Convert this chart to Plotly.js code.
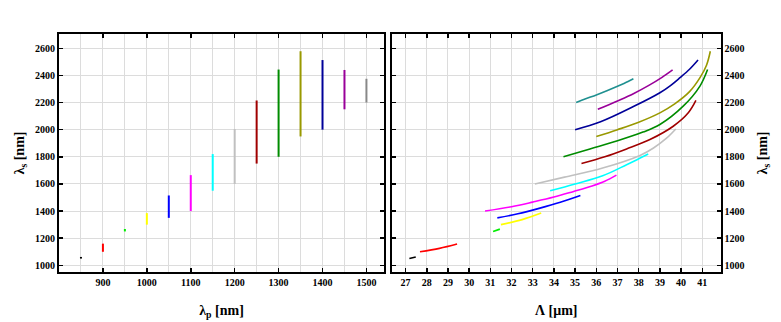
<!DOCTYPE html>
<html>
<head>
<meta charset="utf-8">
<script src="https://cdn.plot.ly/plotly-3.0.1.min.js"></script>
<style>html,body{margin:0;padding:0;background:#fff;}#chart{width:781px;height:322px;}</style>
</head>
<body>
<div id="chart"></div>
<script>
// Pump wavelengths (nm) and signal tuning range (nm)
const pumpWl    = [850, 900, 950, 1000, 1050, 1100, 1150, 1200, 1250, 1300, 1350, 1400, 1450, 1500];
const signalMin = [1050, 1100, 1250, 1300, 1350, 1400, 1550, 1600, 1750, 1800, 1950, 2000, 2150, 2200];
const signalMax = [1062, 1160, 1268, 1385, 1515, 1665, 1820, 2005, 2215, 2443, 2578, 2513, 2440, 2375];
const leftColors  = ['#000000','#ff0000','#00ee00','#ffff00','#0000ff','#ff00ff','#00ffff','#c0c0c0','#a00000','#008c00','#999900','#000099','#990099','#888888'];
const rightColors = ['#000000','#ff0000','#00ee00','#ffff00','#0000ff','#ff00ff','#00ffff','#c0c0c0','#a00000','#008c00','#999900','#000099','#990099','#1f9090'];

// Poling period (um) vs signal wavelength (nm), one curve per pump
const period850  = [27.18, 27.48];
const signal850  = [1050, 1062];
const period900  = [27.68, 28.6, 29.43];
const signal900  = [1100, 1125, 1157];
const period950  = [31.13, 31.45];
const signal950  = [1250, 1267];
const period1000 = [31.5, 32.5, 33.4];
const signal1000 = [1300, 1337, 1385];
const period1050 = [31.33, 32.3, 33.3, 34.3, 35.25];
const signal1050 = [1350, 1380, 1420, 1465, 1515];
const period1100 = [30.75, 32.0, 33.0, 34.0, 34.9, 35.8, 36.4, 36.95];
const signal1100 = [1400, 1432, 1466, 1503, 1543, 1585, 1620, 1665];
const period1150 = [33.82, 35.0, 36.3, 37.43, 38.0, 38.45];
const signal1150 = [1550, 1600, 1660, 1742, 1785, 1820];
const period1200 = [33.1, 34.5, 36.3, 38.06, 38.7, 39.3, 39.75];
const signal1200 = [1600, 1650, 1717, 1810, 1865, 1935, 2005];
const period1250 = [35.3, 36.4, 37.43, 38.53, 39.63, 40.34, 40.7];
const signal1250 = [1750, 1800, 1858, 1927, 2025, 2124, 2215];
const period1300 = [34.45, 35.7, 37.0, 38.2, 39.0, 40.1, 40.89, 41.25];
const signal1300 = [1800, 1858, 1918, 1982, 2038, 2173, 2321, 2443];
const period1350 = [36.0, 37.0, 38.0, 39.0, 39.7, 40.4, 40.9, 41.2, 41.38];
const signal1350 = [1950, 2000, 2055, 2124, 2190, 2280, 2385, 2475, 2578];
const period1400 = [35.0, 36.2, 37.75, 39.0, 39.5, 39.95, 40.4, 40.8];
const signal1400 = [2000, 2058, 2170, 2272, 2325, 2383, 2445, 2513];
const period1450 = [36.07, 37.0, 37.75, 38.5, 39.1, 39.6];
const signal1450 = [2150, 2212, 2265, 2328, 2385, 2440];
const period1500 = [35.05, 35.5, 36.0, 36.5, 37.0, 37.5, 37.75];
const signal1500 = [2200, 2227, 2256, 2287, 2320, 2355, 2375];

const periods = [period850, period900, period950, period1000, period1050, period1100, period1150, period1200, period1250, period1300, period1350, period1400, period1450, period1500];
const signals = [signal850, signal900, signal950, signal1000, signal1050, signal1100, signal1150, signal1200, signal1250, signal1300, signal1350, signal1400, signal1450, signal1500];

const traces = [];
pumpWl.forEach((p, i) => {
  traces.push({
    x: [p, p], y: [signalMin[i], signalMax[i]],
    mode: 'lines', line: {color: leftColors[i], width: 2},
    xaxis: 'x', yaxis: 'y', showlegend: false, hoverinfo: 'skip'
  });
});
periods.forEach((per, i) => {
  traces.push({
    x: per, y: signals[i],
    mode: 'lines', line: {color: rightColors[i], width: 1.6, shape: 'spline', smoothing: 1},
    xaxis: 'x2', yaxis: 'y2', showlegend: false, hoverinfo: 'skip'
  });
});

const tickFont = {family: 'Liberation Serif, Times New Roman, serif', size: 10, color: '#000', weight: 'bold'};
const titleFont = {family: 'Liberation Serif, Times New Roman, serif', size: 14, color: '#000', weight: 'bold'};
const H = 322, W = 781;
const yDom = [(H - 272) / H, (H - 34) / H];

const common = {
  showline: true, linecolor: '#000', linewidth: 2, mirror: 'allticks',
  ticks: 'inside', ticklen: 4, tickwidth: 1.5, tickcolor: '#000',
  showgrid: true, gridcolor: '#dcdcdc', gridwidth: 1, zeroline: false,
  tickfont: tickFont
};

const layout = {
  width: W, height: H,
  margin: {l: 0, r: 0, t: 0, b: 0},
  paper_bgcolor: '#fff', plot_bgcolor: '#fff',
  showlegend: false,
  xaxis: Object.assign({}, common, {
    domain: [59 / W, 384 / W], range: [800, 1540], anchor: 'y',
    tickvals: [900, 1000, 1100, 1200, 1300, 1400, 1500],
    minor: {tickvals: [850, 950, 1050, 1150, 1250, 1350, 1450], showgrid: true, gridcolor: '#dcdcdc', ticks: ''},
    title: {text: 'λ<sub>p</sub> [nm]', font: titleFont, standoff: 18}
  }),
  yaxis: Object.assign({}, common, {
    domain: yDom, range: [951, 2705], anchor: 'x',
    tickvals: [1000, 1200, 1400, 1600, 1800, 2000, 2200, 2400, 2600],
    title: {text: 'λ<sub>s</sub> [nm]', font: titleFont, standoff: 7}
  }),
  xaxis2: Object.assign({}, common, {
    domain: [392 / W, 720.5 / W], range: [26.36, 41.86], anchor: 'y2',
    tickvals: [27, 28, 29, 30, 31, 32, 33, 34, 35, 36, 37, 38, 39, 40, 41],
    title: {text: 'Λ [μm]', font: titleFont, standoff: 18}
  }),
  yaxis2: Object.assign({}, common, {
    domain: yDom, range: [951, 2705], anchor: 'x2', side: 'right',
    tickvals: [1000, 1200, 1400, 1600, 1800, 2000, 2200, 2400, 2600],
    title: {text: 'λ<sub>s</sub> [nm]', font: titleFont, standoff: 14}
  })
};

Plotly.newPlot('chart', traces, layout, {staticPlot: true, displayModeBar: false});
</script>
</body>
</html>
